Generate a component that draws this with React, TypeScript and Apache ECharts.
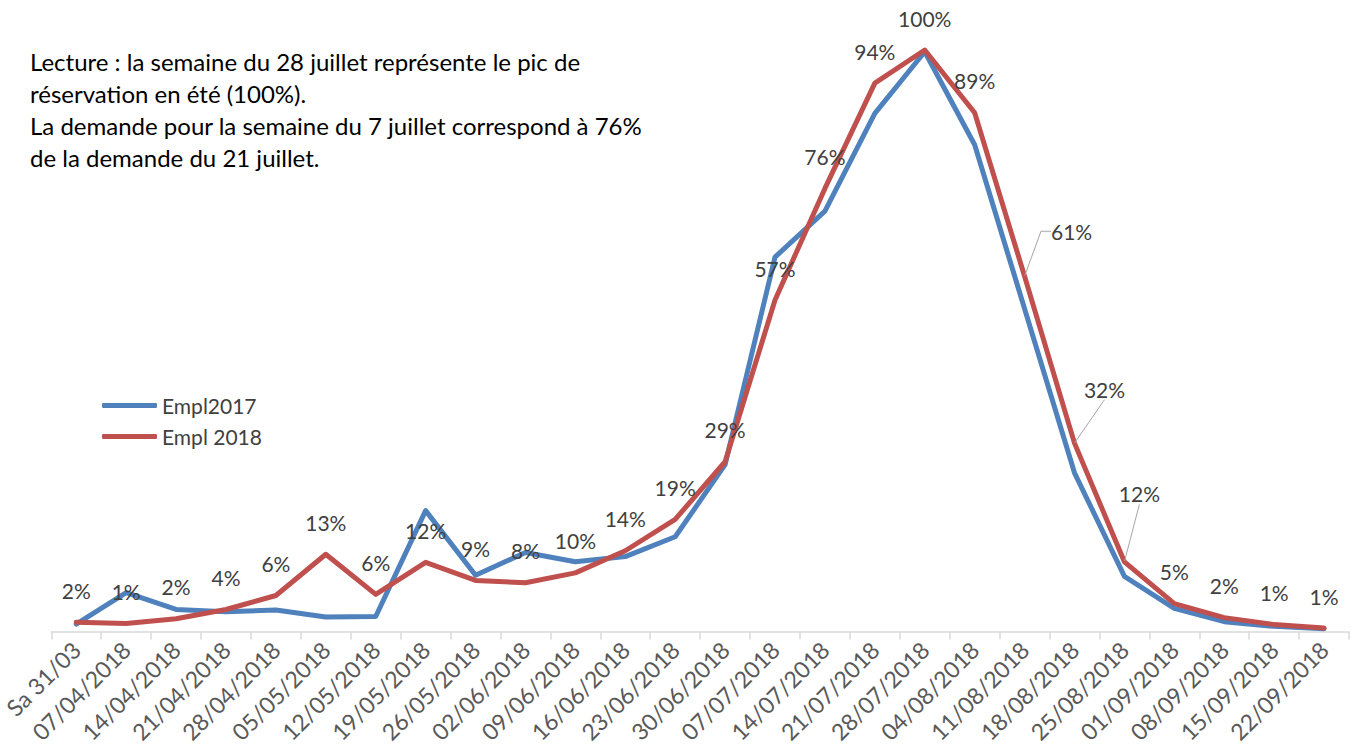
import React, { useEffect, useRef } from "react";
import * as echarts from "echarts";

const categories = [
  "Sa 31/03", "07/04/2018", "14/04/2018", "21/04/2018", "28/04/2018", "05/05/2018",
  "12/05/2018", "19/05/2018", "26/05/2018", "02/06/2018", "09/06/2018", "16/06/2018",
  "23/06/2018", "30/06/2018", "07/07/2018", "14/07/2018", "21/07/2018", "28/07/2018",
  "04/08/2018", "11/08/2018", "18/08/2018", "25/08/2018", "01/09/2018", "08/09/2018",
  "15/09/2018", "22/09/2018",
];

const empl2017 = [
  1.3, 6.7, 3.8, 3.4, 3.7, 2.5, 2.6, 20.8, 9.7, 13.6, 12.0, 12.9, 16.3, 28.7,
  64.4, 72.3, 89.1, 99.7, 83.7, 55.5, 27.3, 9.5, 4.0, 1.7, 0.9, 0.5,
];

const empl2018 = [
  1.6, 1.4, 2.2, 3.8, 6.2, 13.3, 6.4, 11.9, 8.8, 8.4, 10.1, 13.9, 19.3, 29.2,
  57.0, 76.2, 94.3, 100, 89.2, 61.1, 32.4, 12.0, 4.8, 2.4, 1.2, 0.6,
];

const seriesNames = ["Empl2017", "Empl 2018"];

const noteLines = [
  "Lecture : la semaine du 28 juillet représente le pic de",
  "réservation en été (100%).",
  "La demande pour la semaine du 7 juillet correspond à 76%",
  "de la demande du 21 juillet.",
];

// labels moved aside with a leader line (index -> [dx, dy, length2])
const callouts: Record<number, [number, number, number]> = {
  19: [47, -13, 10],
  20: [30, -22, 0],
  21: [15, -36, 0],
};

const FONT = "Lato, 'Open Sans', sans-serif";

export default function App() {
  const ref = useRef<HTMLDivElement>(null);

  useEffect(() => {
    if (!ref.current) return;
    const chart = echarts.init(ref.current, null, { renderer: "svg" });

    const redData = empl2018.map((v, i) =>
      callouts[i]
        ? { value: v, labelLine: { show: true, length2: callouts[i][2] } }
        : v
    );

    chart.setOption({
      animation: false,
      backgroundColor: "#ffffff",
      textStyle: { fontFamily: FONT },
      title: {
        text: noteLines.join("\n"),
        left: 30,
        top: 45,
        padding: 0,
        textStyle: {
          fontFamily: FONT,
          fontSize: 24,
          lineHeight: 32,
          fontWeight: "normal",
          color: "#000000",
        },
      },
      legend: {
        data: seriesNames,
        orient: "vertical",
        left: 102,
        top: 395,
        padding: 0,
        icon: "roundRect",
        itemWidth: 55,
        itemHeight: 5,
        itemGap: 10,
        textStyle: { fontFamily: FONT, fontSize: 21, color: "#404040" },
      },
      grid: { left: 49, right: 5, top: 50, bottom: 114, containLabel: false },
      xAxis: {
        type: "category",
        data: categories,
        boundaryGap: true,
        axisLine: { lineStyle: { color: "#d9d9d9", width: 1.5 } },
        axisTick: { show: true, length: 8, lineStyle: { color: "#d9d9d9", width: 1.5 } },
        axisLabel: {
          interval: 0,
          rotate: 45,
          margin: 14,
          fontFamily: FONT,
          fontSize: 23,
          color: "#595959",
        },
        splitLine: { show: false },
      },
      yAxis: {
        type: "value",
        min: 0,
        max: 100,
        show: false,
        splitLine: { show: false },
      },
      series: [
        {
          name: seriesNames[0],
          type: "line",
          data: empl2017,
          symbol: "none",
          clip: false,
          color: "#4F81BD",
          lineStyle: { width: 5, color: "#4F81BD", join: "round", cap: "round" },
          z: 2,
        },
        {
          name: seriesNames[1],
          type: "line",
          data: redData,
          symbol: "circle",
          symbolSize: 1,
          showSymbol: true,
          clip: false,
          color: "#C0504D",
          itemStyle: { color: "#C0504D" },
          lineStyle: { width: 5, color: "#C0504D", join: "round", cap: "round" },
          label: {
            show: true,
            position: "top",
            distance: 21,
            fontFamily: FONT,
            fontSize: 21,
            color: "#404040",
            formatter: (p: any) => Math.round(p.value) + "%",
          },
          labelLine: {
            show: false,
            lineStyle: { color: "#a6a6a6", width: 1 },
          },
          labelLayout: (params: any) => {
            const c = callouts[params.dataIndex];
            return c ? { dx: c[0], dy: c[1] } : {};
          },
          z: 3,
        },
      ],
    });

    return () => chart.dispose();
  }, []);

  return <div ref={ref} style={{ width: 1354, height: 746, position: "absolute", left: 0, top: 0 }} />;
}
